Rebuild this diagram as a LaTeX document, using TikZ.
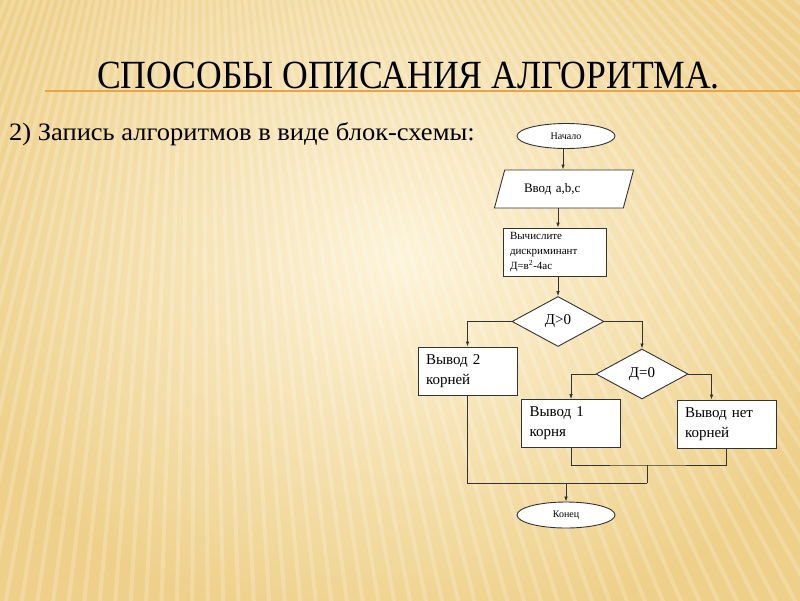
\documentclass[tikz,border=0pt]{standalone}
\usepackage{fontspec}
\setmainfont{Liberation Serif}
\usetikzlibrary{arrows.meta,positioning,shapes.geometric,calc}
\definecolor{paper}{HTML}{FDF4DA}
\definecolor{paperdark}{HTML}{EED08A}
\definecolor{rulecol}{HTML}{E9A445}
\definecolor{ink}{HTML}{333333}
\tikzset{term/.style={draw=ink,fill=white,ellipse,line width=0.9pt,inner sep=0pt,
  minimum width=98pt,minimum height=25pt,font=\fontsize{10}{12}\selectfont},
  io/.style={draw=ink,fill=white,trapezium,trapezium left angle=59,trapezium right angle=121,
  trapezium stretches=true,minimum width=140pt,minimum height=38pt,line width=0.9pt,
  text width=80pt,align=left,inner sep=0pt,font=\fontsize{13}{15}\selectfont},
  block/.style={draw=ink,fill=white,line width=0.9pt,align=left,inner xsep=8pt,
  text width=83pt,minimum height=48pt,font=\fontsize{15}{20}\selectfont},
  calcbox/.style={draw=ink,fill=white,line width=0.9pt,align=left,inner xsep=7pt,
  text width=89pt,minimum height=48pt,font=\fontsize{11}{15}\selectfont},
  test/.style={draw=ink,fill=white,diamond,aspect=1.8,inner sep=0pt,line width=0.9pt,
  minimum width=92pt,minimum height=50pt,font=\fontsize{15}{18}\selectfont},
  arrow/.style={-{Latex[length=5pt,width=3.5pt]},line width=0.7pt,draw=ink},
  link/.style={line width=0.7pt,draw=ink}}
\begin{document}
\begin{tikzpicture}[x=1pt,y=-1pt]
\useasboundingbox (0,0) rectangle (800,600);
% background of the slide
\begin{scope}
\clip (0,0) rectangle (800,600);
\fill[paperdark] (0,0) rectangle (800,600);
\shade[inner color=paper,outer color=paperdark] (-60,-120) rectangle (860,640);
\coordinate (fan) at (200,-500);
\foreach \a in {36,36.8,...,118}
  \draw[white,opacity=0.2,line width=4pt] (fan) -- ++(\a:1500);
\end{scope}
% title
\node[anchor=base west,inner sep=0pt,xscale=0.89,transform shape,
  font=\fontsize{40}{44}\selectfont] (title) at (97,88) {СПОСОБЫ ОПИСАНИЯ АЛГОРИТМА.};
\draw[rulecol,line width=2pt] (45,91) -- (800,91);
\node[anchor=base west,inner sep=0pt,xscale=1.06,transform shape,
  font=\fontsize{25}{28}\selectfont] (sub) at (9,140) {2) Запись алгоритмов в виде блок-схемы:};
% flowchart
\node[term] (start) at (566,136) {Начало};
\node[io] (input) at (564,189) {Ввод a,b,c};
\node[calcbox] (calc) at (554.5,252) {Вычислите\\дискриминант\\Д=в\textsuperscript{2}-4ас};
\node[test] (d1) at (558,321.5) {Д>0};
\node[block] (two) at (467.5,371) {Вывод 2\\корней};
\node[test] (d2) at (642,374) {Д=0};
\node[block] (one) at (571,423.5) {Вывод 1\\корня};
\node[block] (none) at (726.5,424) {Вывод нет\\корней};
\node[term,minimum height=26pt] (end) at (566,515) {Конец};
\coordinate (j1) at (647,465);
\coordinate (j2) at (647,483);
\draw[arrow] ([xshift=-3pt]start.south) -- ([xshift=-3pt]start.south |- input.north);
\draw[arrow] (input.south -| d1.north) -- (d1.north |- calc.north);
\draw[arrow] (calc.south -| d1.north) -- (d1.north);
\draw[arrow] (d1.west) -| (two.north);
\draw[arrow] (d1.east) -| (d2.north);
\draw[arrow] (d2.west) -| (one.north);
\draw[arrow] (d2.east) -| ([xshift=-15pt]none.north);
\draw[link] (one.south) |- (j1) -| (none.south);
\draw[link] (j1) -- (j2);
\draw[link] (two.south) |- (j2);
\draw[arrow] (end.north |- j2) -- (end.north);
\end{tikzpicture}
\end{document}
